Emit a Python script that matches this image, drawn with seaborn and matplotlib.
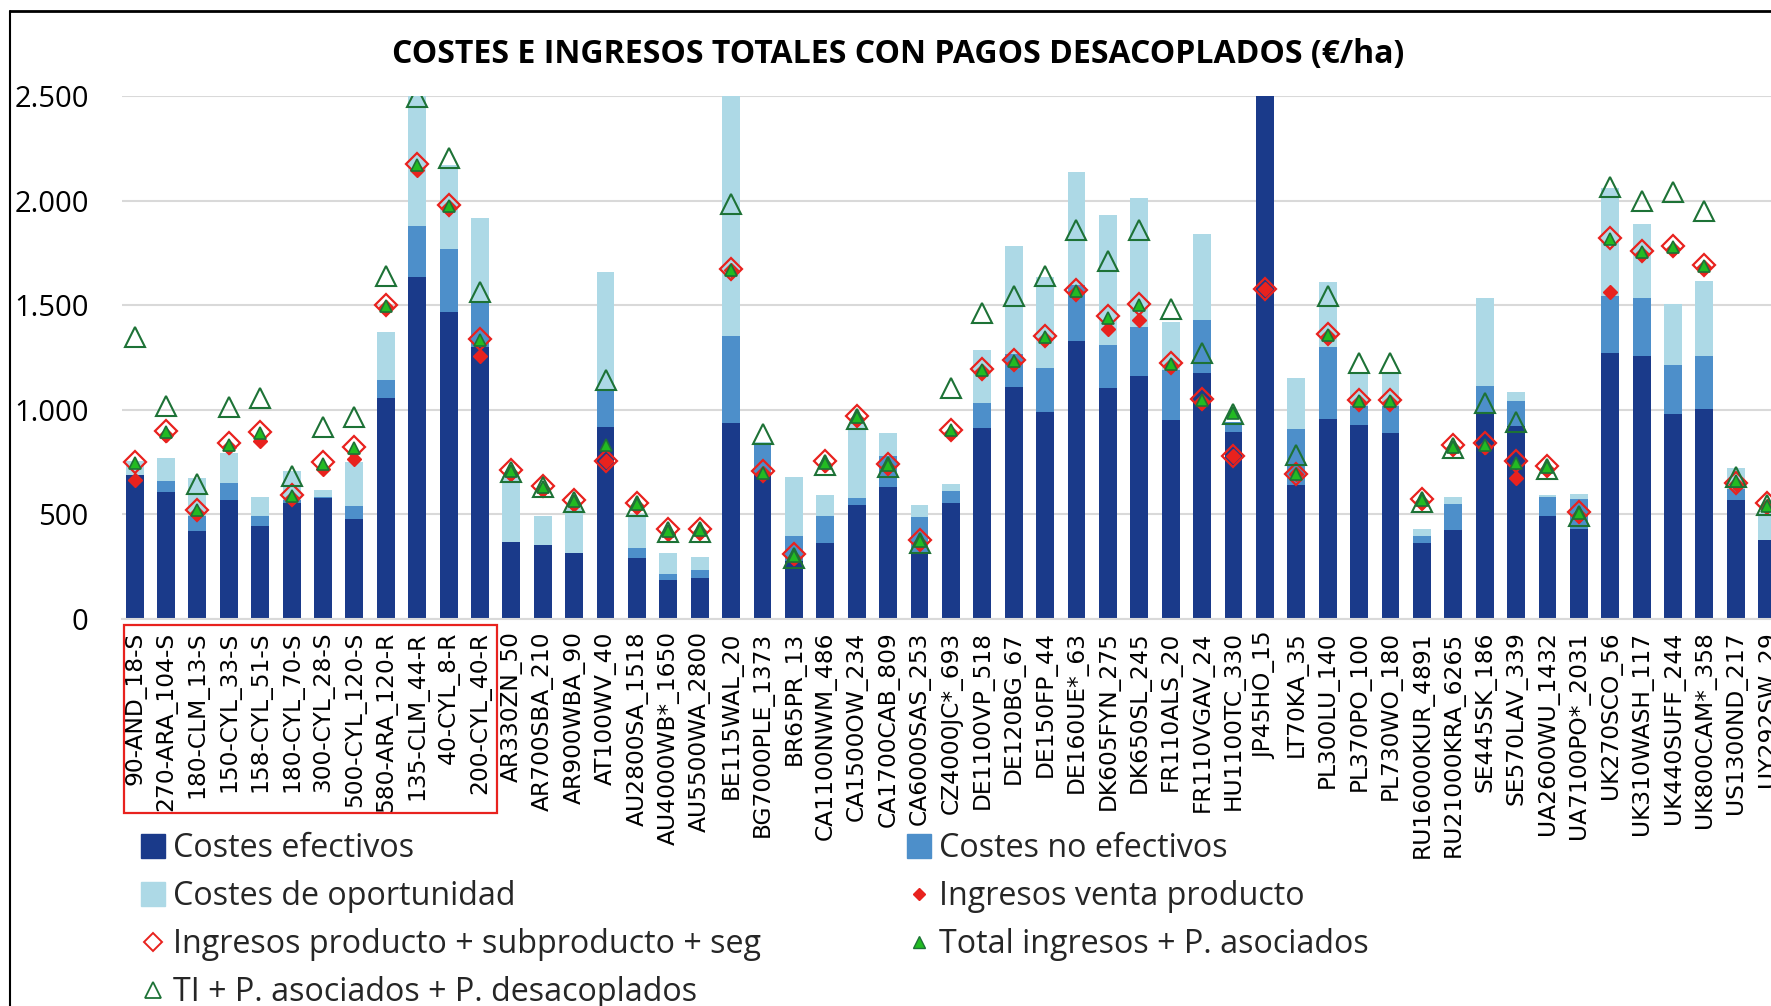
import numpy as np
import pandas as pd
import matplotlib
matplotlib.use("Agg")
import matplotlib.pyplot as plt
import seaborn as sns
from matplotlib.patches import Patch, Rectangle
from matplotlib.lines import Line2D
from matplotlib.ticker import FuncFormatter

# explotaciones tipo (orden del eje X)
explotaciones = [
    "90-AND_18-S", "270-ARA_104-S", "180-CLM_13-S", "150-CYL_33-S", "158-CYL_51-S",
    "180-CYL_70-S", "300-CYL_28-S", "500-CYL_120-S", "580-ARA_120-R", "135-CLM_44-R",
    "40-CYL_8-R", "200-CYL_40-R", "AR330ZN_50", "AR700SBA_210", "AR900WBA_90",
    "AT100WV_40", "AU2800SA_1518", "AU4000WB*_1650", "AU5500WA_2800", "BE115WAL_20",
    "BG7000PLE_1373", "BR65PR_13", "CA1100NWM_486", "CA1500OW_234", "CA1700CAB_809",
    "CA6000SAS_253", "CZ4000JC*_693", "DE1100VP_518", "DE120BG_67", "DE150FP_44",
    "DE160UE*_63", "DK605FYN_275", "DK650SL_245", "FR110ALS_20", "FR110VGAV_24",
    "HU1100TC_330", "JP45HO_15", "LT70KA_35", "PL300LU_140", "PL370PO_100",
    "PL730WO_180", "RU16000KUR_4891", "RU21000KRA_6265", "SE445SK_186", "SE570LAV_339",
    "UA2600WU_1432", "UA7100PO*_2031", "UK270SCO_56", "UK310WASH_117", "UK440SUFF_244",
    "UK800CAM*_358", "US1300ND_217", "UY292SW_29",
]

# costes (€/ha), tramos apilados
costes_efectivos = [
    690, 608, 422, 569, 445, 553, 580, 479, 1058, 1635,
    1468, 1298, 367, 353, 317, 918, 291, 184, 195, 938,
    700, 275, 363, 544, 633, 316, 555, 913, 1108, 991,
    1330, 1103, 1161, 949, 1174, 895, 2700, 642, 954, 929,
    890, 363, 424, 989, 922, 493, 431, 1273, 1255, 979,
    1005, 567, 376,
]
costes_no_efectivos = [
    0, 52, 68, 80, 48, 17, 5, 60, 84, 244,
    301, 223, 0, 0, 0, 181, 49, 32, 39, 413,
    142, 120, 128, 32, 144, 172, 57, 121, 160, 209,
    266, 205, 236, 242, 257, 45, 0, 266, 344, 90,
    129, 36, 126, 123, 121, 92, 142, 273, 279, 234,
    250, 53, 0,
]
costes_oportunidad = [
    65, 108, 184, 145, 92, 136, 32, 211, 232, 640,
    403, 397, 316, 138, 215, 559, 160, 100, 64, 1200,
    5, 282, 103, 355, 113, 58, 35, 251, 517, 435,
    540, 621, 615, 227, 409, 0, 0, 244, 315, 155,
    155, 30, 32, 420, 42, 9, 25, 516, 354, 294,
    362, 102, 129,
]

# ingresos (€/ha)
ingresos_venta = [
    665, 878, 505, 824, 851, 576, 718, 766, 1489, 2145,
    1968, 1259, 700, 620, 550, 754, 541, 408, 417, 1667,
    700, 293, 736, 957, 727, 363, 890, 1184, 1223, 1339,
    1564, 1386, 1427, 1214, 1043, 780, 1578, 691, 1351, 1037,
    1037, 558, 819, 824, 674, 718, 496, 1564, 1746, 1769,
    1681, 647, 541,
]
ingresos_prod_subprod = [
    750, 899, 523, 839, 895, 594, 750, 824, 1503, 2175,
    1980, 1339, 713, 638, 567, 754, 553, 429, 429, 1672,
    706, 310, 754, 972, 741, 378, 904, 1197, 1238, 1353,
    1573, 1450, 1507, 1223, 1051, 780, 1578, 695, 1362, 1046,
    1046, 573, 830, 839, 754, 732, 511, 1823, 1759, 1785,
    1693, 652, 553,
]
total_ingresos_asociados = [
    745, 895, 523, 833, 890, 589, 741, 816, 1498, 2168,
    1975, 1335, 709, 633, 564, 833, 550, 422, 426, 1670,
    700, 301, 748, 966, 736, 372, 901, 1191, 1232, 1347,
    1569, 1441, 1503, 1218, 1046, 984, np.nan, 695, 1356, 1043,
    1043, 567, 824, 833, 748, 727, 505, 1817, 1752, 1778,
    1688, 661, 541,
]
ti_asociados_desacoplados = [
    1347, 1016, 647, 1014, 1055, 683, 918, 966, 1640, 2493,
    2202, 1564, 705, 630, 558, 1144, 541, 417, 417, 1982,
    883, 293, 736, 957, 727, 363, 1105, 1461, 1546, 1640,
    1858, 1711, 1858, 1484, 1271, 979, np.nan, 784, 1542, 1223,
    1223, 558, 816, 1032, 943, 718, 493, 2066, 2000, 2043,
    1950, 677, 545,
]

AZUL_OSCURO = "#1a3a8a"
AZUL_MEDIO = "#4d8fca"
AZUL_CLARO = "#add9e6"
ROJO = "#e8221e"
VERDE = "#22bb22"
VERDE_BORDE = "#1d7236"

sns.set_theme(style="white")
plt.rcParams["font.family"] = ["Open Sans", "DejaVu Sans"]

df = pd.DataFrame({
    "explotacion": explotaciones,
    "efectivos": costes_efectivos,
    "no_efectivos": costes_no_efectivos,
    "oportunidad": costes_oportunidad,
})
df["tramo2"] = df["efectivos"] + df["no_efectivos"]
df["tramo3"] = df["tramo2"] + df["oportunidad"]

fig = plt.figure(figsize=(17.71, 10.06), dpi=100)
ax = fig.add_axes([0.0689, 0.3847, 0.9467, 0.5199])

# barras apiladas: se dibuja el total y se van tapando los tramos inferiores
for col, color in [("tramo3", AZUL_CLARO), ("tramo2", AZUL_MEDIO), ("efectivos", AZUL_OSCURO)]:
    sns.barplot(data=df, x="explotacion", y=col, color=color, saturation=1,
                width=0.57, errorbar=None, linewidth=0, ax=ax)

x = np.arange(len(explotaciones))
ax.plot(x, ingresos_venta, ls="none", marker="D", ms=6.8, mfc=ROJO, mec=ROJO, zorder=3)
ax.plot(x, ingresos_prod_subprod, ls="none", marker="D", ms=11.5, mfc="none", mec=ROJO, mew=1.6, zorder=4)
ax.plot(x, ti_asociados_desacoplados, ls="none", marker="^", ms=14.5, mfc="none", mec=VERDE_BORDE, mew=1.5, zorder=5)
ax.plot(x, total_ingresos_asociados, ls="none", marker="^", ms=9, mfc=VERDE, mec=VERDE_BORDE, mew=1.2, zorder=6)

ax.set_ylim(0, 2500)
ax.set_xlim(-0.4, 53)
ax.set_yticks(np.arange(0, 2501, 500))
ax.yaxis.set_major_formatter(FuncFormatter(lambda v, p: f"{int(v):,}".replace(",", ".")))
ax.yaxis.grid(True, color="#d9d9d9", linewidth=1.5)
ax.set_axisbelow(True)
for s in ["top", "right", "left"]:
    ax.spines[s].set_visible(False)
ax.spines["bottom"].set_color("#d9d9d9")
ax.spines["bottom"].set_linewidth(1.5)
ax.set_xlabel("")
ax.set_ylabel("")
ax.tick_params(axis="y", length=0, pad=24, labelsize=21, labelcolor="black")
ax.tick_params(axis="x", length=0, pad=9)
ax.set_xticks(x)
ax.set_xticklabels(explotaciones, rotation=90, fontsize=16.8, family="DejaVu Sans", color="black")

fig.text(898 / 1771, 1 - 55 / 1006, "COSTES E INGRESOS TOTALES CON PAGOS DESACOPLADOS (€/ha)",
         ha="center", va="center", fontsize=23, fontweight="bold", color="black")

# recuadro rojo sobre las explotaciones españolas
fig.add_artist(Rectangle((124 / 1771, 1 - 813 / 1006), 373 / 1771, 188 / 1006,
                         transform=fig.transFigure, fill=False, edgecolor="#e8221e", lw=1.6))

# marco del gráfico
fig.add_artist(Line2D([10 / 1771, 1], [1 - 11 / 1006] * 2, color="black", lw=2))
fig.add_artist(Line2D([10 / 1771] * 2, [0, 1 - 11 / 1006], color="black", lw=1.5))

col1 = [
    Patch(color=AZUL_OSCURO, label="Costes efectivos"),
    Patch(color=AZUL_CLARO, label="Costes de oportunidad"),
    Line2D([], [], ls="none", marker="D", ms=9, mfc="none", mec=ROJO, mew=1.4,
           label="Ingresos producto + subproducto + seg"),
    Line2D([], [], ls="none", marker="^", ms=11, mfc="none", mec=VERDE_BORDE, mew=1.3,
           label="TI + P. asociados + P. desacoplados"),
]
col2 = [
    Patch(color=AZUL_MEDIO, label="Costes no efectivos"),
    Line2D([], [], ls="none", marker="D", ms=6, mfc=ROJO, mec=ROJO, label="Ingresos venta producto"),
    Line2D([], [], ls="none", marker="^", ms=9, mfc=VERDE, mec=VERDE_BORDE, mew=1,
           label="Total ingresos + P. asociados"),
]
leg_kw = dict(frameon=False, fontsize=23.2, handlelength=0.75, handleheight=0.75,
              handletextpad=0.25, labelspacing=0.47, borderpad=0, borderaxespad=0)
leg1 = fig.legend(handles=col1, loc="upper left", bbox_to_anchor=(141 / 1771, 1 - 832 / 1006), **leg_kw)
leg2 = fig.legend(handles=col2, loc="upper left", bbox_to_anchor=(907 / 1771, 1 - 832 / 1006), **leg_kw)

fig.savefig("out.png", dpi=100)
